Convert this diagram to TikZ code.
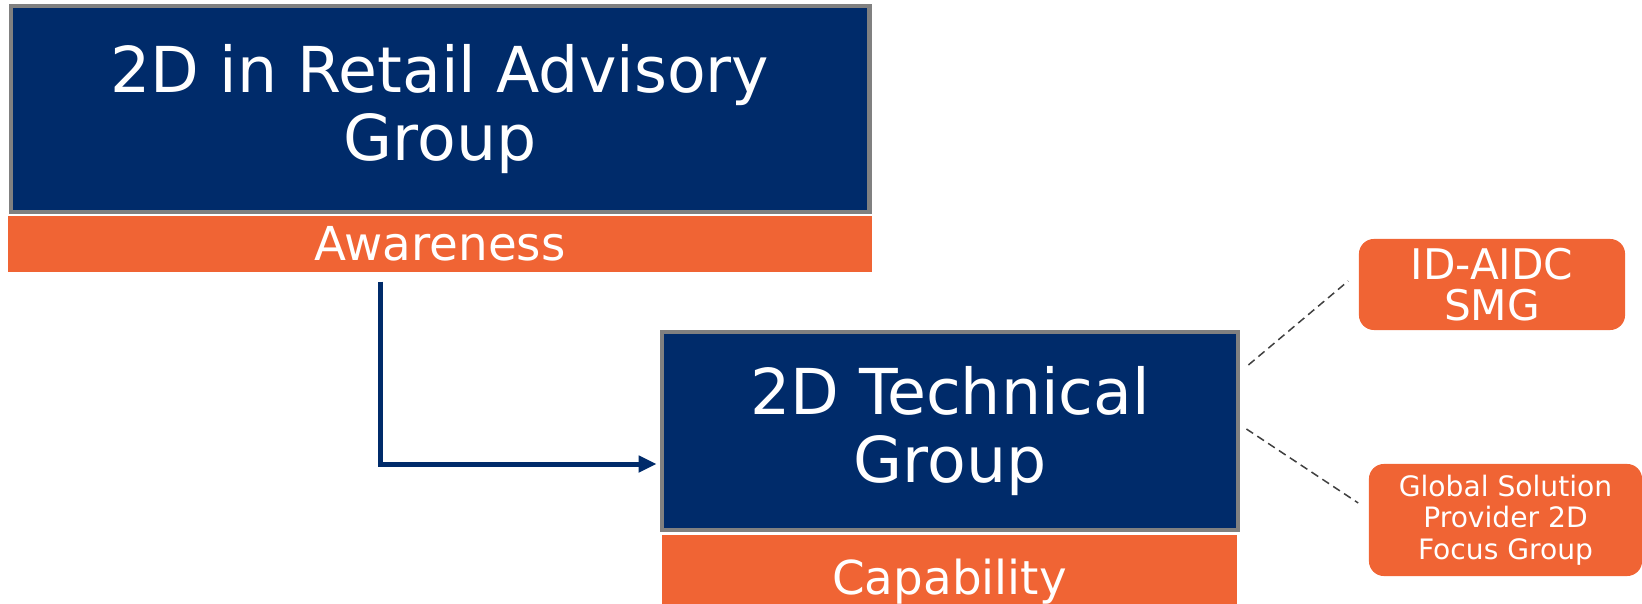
\documentclass[tikz,border=0pt]{standalone}
\usepackage{fontspec}
\setmainfont{DejaVu Sans}
\usetikzlibrary{arrows.meta}
\definecolor{navy}{RGB}{0,43,106}
\definecolor{tangerine}{RGB}{240,100,52}
\definecolor{rim}{RGB}{128,128,128}
\definecolor{dashgrey}{RGB}{64,64,64}
\tikzset{
  groupbox/.style={draw=rim, line width=0.045cm, fill=navy, text=white, align=center, inner sep=0pt,
    font=\fontsize{18}{19.3}\selectfont},
  tagbar/.style={fill=tangerine, text=white, inner sep=0pt, font=\fontsize{13.3}{14}\selectfont},
  sidebox/.style={fill=tangerine, text=white, rounded corners=0.15cm, align=center, inner sep=0pt},
  flow/.style={draw=navy, line width=0.05cm, -{Triangle[length=0.18cm,width=0.16cm]}},
  link/.style={draw=dashgrey, line width=0.015cm, dash pattern=on 0.08cm off 0.05cm}
}
\begin{document}
\begin{tikzpicture}[x=0.01cm,y=-0.01cm]
        \useasboundingbox (0,0) rectangle (1642,604);
        \node (retail) at (440,109) [groupbox, minimum width=8.58cm, minimum height=2.06cm]{2D in Retail Advisory\\Group};
        \node (awareness) at (440,244) [tagbar, minimum width=8.63cm, minimum height=0.56cm]{Awareness};
        \node (tech) at (950,431) [groupbox, minimum width=5.76cm, minimum height=1.98cm]{2D Technical\\Group};
        \node (capability) at (949.5,569.5) [tagbar, minimum width=5.75cm, minimum height=0.69cm,
            text height=14pt, text depth=0pt]{Capability};
        \node (aidc) at (1492,284.5) [sidebox, minimum width=2.66cm, minimum height=0.91cm,
            font=\fontsize{12}{11.7}\selectfont]{ID-AIDC\\SMG};
        \node (provider) at (1505.5,520) [sidebox, minimum width=2.73cm, minimum height=1.12cm,
            font=\fontsize{8}{8.9}\selectfont]{Global Solution\\Provider 2D\\Focus Group};
        \draw[flow] ([xshift=-0.59cm,yshift=-0.09cm]awareness.south) |- ([xshift=-0.03cm,yshift=-0.33cm]tech.west);
        \draw[link] ([xshift=0.08cm,yshift=0.66cm]tech.east) -- ([xshift=-0.1cm,yshift=0.035cm]aidc.west);
        \draw[link] ([xshift=0.06cm,yshift=0.02cm]tech.east) -- ([xshift=-0.1cm,yshift=0.17cm]provider.west);
    \end{tikzpicture}
\end{document}
